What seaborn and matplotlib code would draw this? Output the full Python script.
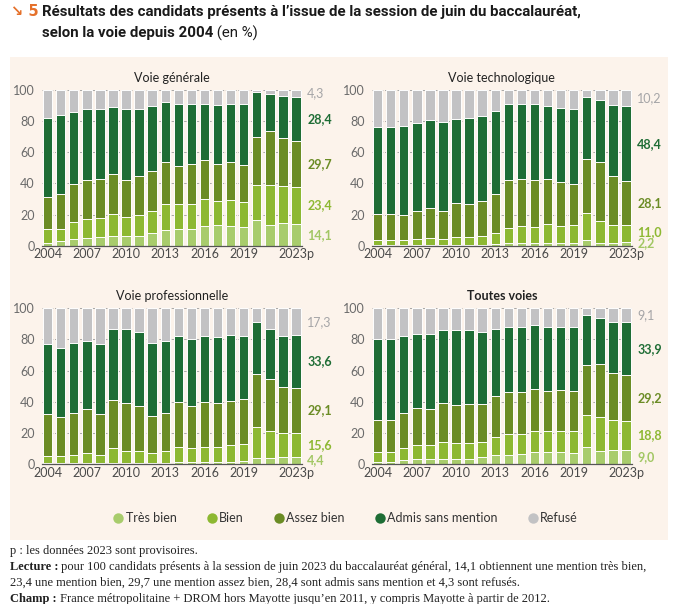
import numpy as np
import pandas as pd
import matplotlib
matplotlib.use("Agg")
import matplotlib.pyplot as plt
import matplotlib.transforms as mtransforms
from matplotlib.lines import Line2D
from matplotlib.patches import Rectangle
import seaborn as sns

# --- data (in %) ---
years = [str(y) for y in range(2004, 2023)] + ["2023p"]
tick_labels = ["2004", "2007", "2010", "2013", "2016", "2019", "2023p"]
tick_pos = [0, 3, 6, 9, 12, 15, 19]

categories = ["Très bien", "Bien", "Assez bien", "Admis sans mention", "Refusé"]

gen_tb = [1.7, 3, 4, 5, 5.5, 6.5, 6, 6.5, 8, 10, 10.5, 10.5, 12.5, 13, 12.5, 12, 16.5, 13.5, 14.5, 14.1]
gen_bien = [8.8, 8, 11, 12, 12.5, 14, 12.5, 13.5, 14.5, 17, 16, 16.5, 17.5, 16, 17, 16, 22.5, 25.5, 24, 23.4]
gen_ab = [20.5, 22, 24.5, 25, 25, 25.5, 23.5, 24.5, 25.5, 26.5, 25, 25.5, 25, 23.5, 24, 24, 30.5, 34.5, 30.5, 29.7]
gen_admis = [51, 51, 46.5, 45.5, 44.5, 43, 45.5, 43.5, 41.5, 38.5, 39.5, 38.5, 36, 38, 37.5, 39, 29, 24, 27, 28.4]
gen_refuse = [18, 16, 14, 12.5, 12.5, 11, 12.5, 12, 10.5, 8, 9, 9, 9, 9.5, 9, 9, 1.5, 2.5, 4, 4.3]

tech_tb = [0.5, 0.5, 0.5, 0.5, 0.5, 0.5, 0.5, 0.5, 0.5, 1, 1.5, 2, 2, 2, 2, 2, 3.6, 2, 2, 2.2]
tech_bien = [3, 3, 3, 3.8, 4.5, 3.8, 5, 5, 5.5, 7, 10, 10.5, 10, 12, 10.5, 11, 17.4, 14, 11, 11.0]
tech_ab = [17, 17, 16.5, 18.2, 19, 18.2, 22, 21.5, 22.5, 25.5, 30.5, 30.5, 30, 29, 28.5, 26.5, 34.5, 37.5, 31.5, 28.1]
tech_admis = [56, 55.5, 57, 56.5, 56.5, 57, 54, 55, 54.5, 53, 49, 48, 49, 47, 47.5, 48.5, 40, 40, 46, 48.4]
tech_refuse = [23.5, 24, 23, 21, 19.5, 20.5, 18.5, 18, 17, 13.5, 9, 9, 9, 10, 11.5, 12, 4.5, 6.5, 9.5, 10.2]

pro_tb = [0.5, 0.5, 0.5, 0.5, 0.5, 0.5, 0.5, 0.5, 0.5, 0.5, 1, 1, 1.5, 1.5, 1.5, 2, 3.6, 4, 4.5, 4.4]
pro_bien = [4.5, 4.5, 5.5, 6.5, 5.5, 9.5, 8, 8, 6.5, 8, 10, 9, 9.5, 9.5, 11, 11, 19.9, 17.5, 15.5, 15.6]
pro_ab = [27, 25, 27, 28.5, 26, 31, 30.5, 28.5, 24, 24.5, 28.5, 27, 29, 28, 28, 28.5, 34.5, 33, 29.5, 29.1]
pro_admis = [45, 44.5, 44.5, 43.5, 45, 46, 47.5, 47.5, 47, 46, 42.5, 43.5, 42.5, 42.5, 42.5, 41, 33, 32, 32.5, 33.6]
pro_refuse = [23, 25.5, 22.5, 21, 23, 13, 13.5, 15.5, 22, 21, 18, 19.5, 17.5, 18.5, 17, 17.5, 9, 13.5, 18, 17.3]

all_tb = [1.5, 1.5, 2.5, 3, 3, 3.5, 3.5, 3.5, 4.5, 5.5, 6, 6.5, 7.5, 7.5, 7.5, 7, 11, 8.5, 9, 9.0]
all_bien = [6.5, 6.5, 8, 9, 9.5, 10.5, 10, 10, 9.5, 12, 13, 13, 14, 14, 14, 14, 20.5, 22, 19.5, 18.8]
all_ab = [20.5, 20.5, 22.5, 24, 23, 25, 24.5, 25, 24.5, 26, 27, 26.5, 26.5, 25.5, 26, 26, 32, 33.5, 30, 29.2]
all_admis = [51.5, 51.5, 49, 47.5, 48, 47, 48, 47.5, 46, 43.5, 42, 42, 41, 41, 40.5, 41, 32.5, 30, 32.5, 33.9]
all_refuse = [20, 20, 18, 16.5, 16.5, 14, 14, 14, 15.5, 13, 12, 12, 11, 12, 12, 12, 4, 6, 9, 9.1]

colors = ["#a8cc6c", "#8db832", "#6b8c25", "#1e6d35", "#c2c2c4"]
label_colors = ["#a2c764", "#8db832", "#6b8c25", "#1e6d35", "#a5a5a7"]
bg = "#fcf3eb"
W, H = 677, 604


def build_table(tb, bien, ab, admis, refuse):
    df = pd.DataFrame({"year": years, "Très bien": tb, "Bien": bien,
                       "Assez bien": ab, "Admis sans mention": admis, "Refusé": refuse})
    return df


panels = [
    ("Voie générale", build_table(gen_tb, gen_bien, gen_ab, gen_admis, gen_refuse), "normal"),
    ("Voie technologique", build_table(tech_tb, tech_bien, tech_ab, tech_admis, tech_refuse), "normal"),
    ("Voie professionnelle", build_table(pro_tb, pro_bien, pro_ab, pro_admis, pro_refuse), "normal"),
    ("Toutes voies", build_table(all_tb, all_bien, all_ab, all_admis, all_refuse), "bold"),
]


def fx(px):
    return px / W


def fy(py):
    return 1 - py / H


def put_runs(fig, x_px, y_px, runs, **kw):
    # draw consecutive text pieces with different styles on one line
    renderer = fig.canvas.get_renderer()
    x = x_px
    for s, props in runs:
        t = fig.text(fx(x), fy(y_px), s, ha="left", va="center", **kw, **props)
        x += t.get_window_extent(renderer).width


def plot_panel(ax, title, df, weight):
    cum = df[categories].cumsum(axis=1)
    # tallest first so each lower stack covers the one above it
    for cat, col in reversed(list(zip(categories, colors))):
        sns.barplot(x=df["year"], y=cum[cat], color=col, width=0.72, ax=ax,
                    edgecolor="white", linewidth=0.7, saturation=1, zorder=2)
    ax.set_xlim(-0.45, 19.45)
    ax.set_ylim(0, 100)
    ax.set_facecolor("none")
    ax.set_axisbelow(True)
    for y in [20, 40, 60, 80, 100]:
        ax.axhline(y, color="#9b9b9b", lw=0.6, ls=(0, (3, 2)), zorder=0)
    for s in ["top", "right", "left"]:
        ax.spines[s].set_visible(False)
    ax.spines["bottom"].set_color("#555555")
    ax.spines["bottom"].set_linewidth(0.9)
    ax.set_xticks(tick_pos)
    ax.set_xticklabels(tick_labels)
    ax.set_yticks([0, 20, 40, 60, 80, 100])
    ax.tick_params(axis="x", length=0, pad=2, labelsize=9, labelcolor="#4a4a4a")
    ax.tick_params(axis="y", length=3, width=0.6, color="#777777", pad=2,
                   labelsize=9, labelcolor="#6a6a6a")
    ax.set_xlabel("")
    ax.set_ylabel("")
    ax.set_title(title, fontsize=9, fontweight=weight, color="#222222", pad=6)

    # labels for the 2023 values, next to the last bar
    last = df.iloc[-1][categories].astype(float).values
    tops = np.cumsum(last)
    mids = tops - last / 2
    pos = mids.copy()
    pos[0] = max(pos[0], 1.5)
    for i in range(1, len(pos)):
        if pos[i] < pos[i - 1] + 7.5:
            pos[i] = pos[i - 1] + 7.5
    trans = mtransforms.blended_transform_factory(ax.transAxes, ax.transData)
    for i, v in enumerate(last):
        txt = f"{v:.1f}".replace(".", ",")
        ax.text(1.02, pos[i], txt, transform=trans, ha="left", va="center",
                fontsize=9, color=label_colors[i],
                fontweight="normal" if i == 4 else "bold")


def main():
    sns.set_style("white")
    plt.rcParams["font.family"] = ["Lato", "DejaVu Sans"]

    fig = plt.figure(figsize=(W / 100, H / 100), dpi=100)
    fig.patch.set_facecolor("white")
    fig.patches.append(Rectangle((fx(10), fy(540)), fx(658), 483 / H,
                                 transform=fig.transFigure, facecolor=bg,
                                 edgecolor="none", zorder=-10))

    rects = [
        (41.7, 90, 301.9, 245.7),
        (371.7, 90, 631.9, 245.7),
        (41.7, 308.3, 301.9, 464),
        (371.7, 308.3, 631.9, 464),
    ]
    for (title, df, weight), (l, t, r, b) in zip(panels, rects):
        ax = fig.add_axes([fx(l), fy(b), fx(r - l), (b - t) / H])
        plot_panel(ax, title, df, weight)

    handles = [Line2D([], [], marker="o", ls="none", markersize=7.5,
                      markerfacecolor=c, markeredgecolor="none") for c in colors]
    fig.legend(handles, categories, loc="center", bbox_to_anchor=(fx(345), fy(518)),
               ncol=5, frameon=False, fontsize=9, handlelength=1.0,
               handletextpad=0.1, columnspacing=2.3, labelcolor="#333333")

    title_font = ["Liberation Sans Narrow", "Roboto", "DejaVu Sans"]
    fig.text(fx(11), fy(12), "\u2198 5", ha="left", va="center", fontsize=10.5,
             fontweight="bold", color="#e5712b", family=["DejaVu Sans"])
    put_runs(fig, 42, 12, [("Résultats des candidats présents à l\u2019issue de la session de juin du baccalauréat,",
                            {"fontweight": "bold"})],
             fontsize=10.8, color="#1a1a1a", family=title_font)
    put_runs(fig, 42, 33, [("selon la voie depuis 2004", {"fontweight": "bold"}),
                           (" (en %)", {"fontweight": "normal"})],
             fontsize=10.8, color="#1a1a1a", family=title_font)

    note_font = ["Liberation Serif", "DejaVu Serif"]
    note_kw = dict(fontsize=9.0, color="#222222", family=note_font)
    put_runs(fig, 10, 551, [("p : les données 2023 sont provisoires.", {})], **note_kw)
    put_runs(fig, 10, 567, [("Lecture :", {"fontweight": "bold"}),
                            (" pour 100 candidats présents à la session de juin 2023 du baccalauréat général, 14,1 obtiennent une mention très bien,", {})],
             **note_kw)
    put_runs(fig, 10, 583, [("23,4 une mention bien, 29,7 une mention assez bien, 28,4 sont admis sans mention et 4,3 sont refusés.", {})],
             **note_kw)
    put_runs(fig, 10, 599, [("Champ :", {"fontweight": "bold"}),
                            (" France métropolitaine + DROM hors Mayotte jusqu\u2019en 2011, y compris Mayotte à partir de 2012.", {})],
             **note_kw)

    fig.savefig("out.png", dpi=100, facecolor="white")
    plt.close(fig)


if __name__ == "__main__":
    main()
